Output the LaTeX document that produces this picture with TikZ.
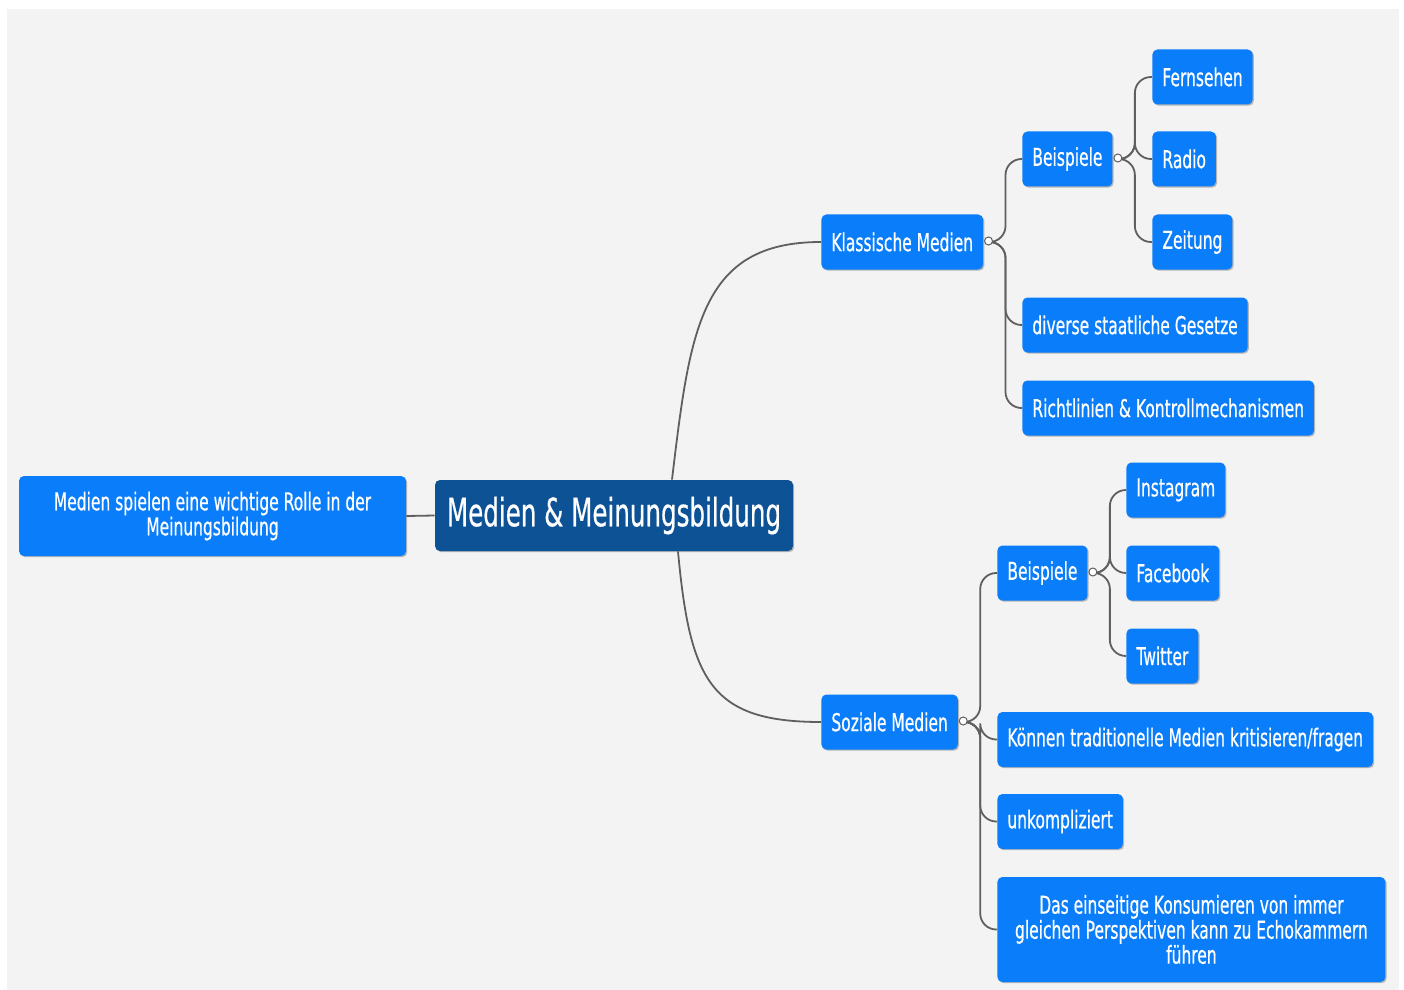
\documentclass[tikz,border=0pt]{standalone}
\usepackage{fontspec}
\newfontfamily\mapfont[FakeStretch=0.63,FakeBold=0.5]{DejaVu Sans}
\usepackage{tikz}
\usetikzlibrary{calc,shadows}
\definecolor{mapblue}{RGB}{10,125,250}
\definecolor{rootblue}{RGB}{14,82,150}
\definecolor{mapbg}{RGB}{243,243,243}
\definecolor{linegray}{RGB}{95,95,95}

\begin{document}
\begin{tikzpicture}[x=0.5pt,y=-0.5pt,
    topic/.style={rectangle, rounded corners=2.5pt, fill=mapblue, text=white,
        font=\mapfont\fontsize{12.3}{12.5}\selectfont, inner xsep=5pt, inner ysep=0pt,
        minimum height=27.5pt, anchor=west,
        drop shadow={shadow xshift=0.6pt, shadow yshift=-0.6pt, fill=black!45, opacity=.6}},
    root/.style={topic, fill=rootblue, anchor=center, font=\mapfont\fontsize{19.5}{21}\selectfont,
        minimum width=179pt, minimum height=35.5pt},
    branch/.style={draw=linegray, line width=0.9pt, rounded corners=8pt},
    knob/.style={draw=linegray, fill=white, line width=0.5pt}]
    % Page and grey canvas
    \useasboundingbox (0,0) rectangle (1404,990);
    \fill[white] (0,0) rectangle (1404,990);
    \fill[mapbg] (7,9) rectangle (1399,990);
    % Centre and summary
    \node[root] (mm) at (614,515.5) {Medien \& Meinungsbildung};
    \node[topic, anchor=center, align=center, minimum width=193.5pt, minimum height=40pt]
        (intro) at (212.5,516) {Medien spielen eine wichtige Rolle in der\\Meinungsbildung};
    % Classic media
    \node[topic] (klass) at (821,242) {Klassische Medien};
    \node[topic] (bsp1) at (1022,159) {Beispiele};
    \node[topic] (fern) at (1152,77) {Fernsehen};
    \node[topic] (radio) at (1152,159) {Radio};
    \node[topic] (zeit) at (1152,242) {Zeitung};
    \node[topic] (gesetze) at (1022,325) {diverse staatliche Gesetze};
    \node[topic] (richt) at (1022,408) {Richtlinien \& Kontrollmechanismen};
    % Social media
    \node[topic] (sozial) at (821,722) {Soziale Medien};
    \node[topic] (bsp2) at (997,573) {Beispiele};
    \node[topic] (insta) at (1126,490) {Instagram};
    \node[topic] (fb) at (1126,573) {Facebook};
    \node[topic] (tw) at (1126,656) {Twitter};
    \node[topic] (kritik) at (997,739.5) {Können traditionelle Medien kritisieren/fragen};
    \node[topic] (einfach) at (997,821.5) {unkompliziert};
    \node[topic, align=center, minimum width=194pt, minimum height=52.5pt]
        (echo) at (997,929.5) {Das einseitige Konsumieren von immer\\gleichen Perspektiven kann zu Echokammern\\führen};
    % Connectors from the centre
    \draw[branch] (intro.east) -- (mm.west);
    \draw[branch] ($(mm.north)+(58,0)$) .. controls +(18,-150) and +(-121,0) .. (klass.west);
    \draw[branch] ($(mm.south)+(64,0)$) .. controls +(12,129) and +(-111,0) .. (sozial.west);
    % Fan-out of each parent
    \foreach \p/\kids in {klass/{bsp1,gesetze,richt}, bsp1/{fern,radio,zeit},
                          sozial/{bsp2,kritik,einfach,echo}, bsp2/{insta,fb,tw}} {
        \foreach \c in \kids
            \draw[branch] ($(\p.east)+(11,0)$) -- ++(11,0) |- (\c.west);
        \draw[knob] ($(\p.east)+(5,-1)$) circle (2pt);
    }
\end{tikzpicture}
\end{document}
